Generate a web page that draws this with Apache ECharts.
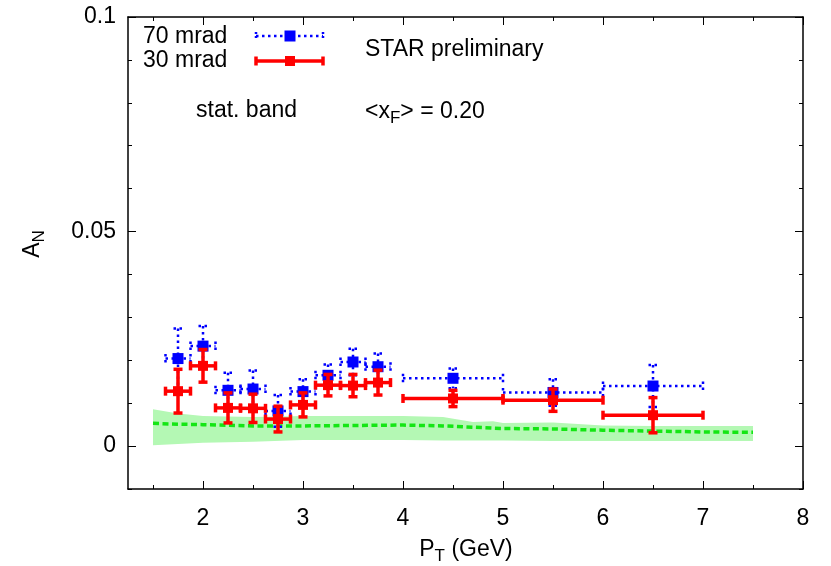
<!DOCTYPE html>
<html><head><meta charset="utf-8">
<script src="https://cdn.jsdelivr.net/npm/echarts@6/dist/echarts.min.js"></script>
<style>html,body{margin:0;padding:0;background:#fff}#c{width:831px;height:566px}</style>
</head><body><div id="c"></div>
<script>
// ---- data ----
const ptCenters = [1.75, 2.0, 2.25, 2.5, 2.75, 3.0, 3.25, 3.5, 3.75, 4.5, 5.5, 6.5];
const ptHalfWidth = [0.125, 0.125, 0.125, 0.125, 0.125, 0.125, 0.125, 0.125, 0.125, 0.5, 0.5, 0.5];
const an70 = [0.0204, 0.0233, 0.0130, 0.0133, 0.0082, 0.0127, 0.0165, 0.0196, 0.0185, 0.0158, 0.0125, 0.0140];
const err70 = [0.0070, 0.0047, 0.0041, 0.0043, 0.0037, 0.0029, 0.0025, 0.0031, 0.0031, 0.0023, 0.0031, 0.0049];
const an30 = [0.0128, 0.0187, 0.0089, 0.0088, 0.0063, 0.0096, 0.0142, 0.0141, 0.0148, 0.0111, 0.0107, 0.0072];
const err30 = [0.0051, 0.0038, 0.0035, 0.0033, 0.0030, 0.0028, 0.0025, 0.0026, 0.0029, 0.0019, 0.0026, 0.0041];

const bandX     = [1.5, 1.75, 2.0, 2.5, 3.0, 3.5, 4.0, 4.4, 4.7, 4.9, 5.0, 5.5, 6.0, 6.5, 7.0, 7.5];
const bandUpper = [0.0086, 0.0076, 0.0070, 0.0068, 0.0070, 0.0070, 0.0070, 0.0068, 0.0056, 0.0058, 0.0054, 0.0055, 0.0048, 0.0047, 0.0047, 0.0047];
const bandLower = [0.0002, 0.0005, 0.0008, 0.0010, 0.0014, 0.0014, 0.0014, 0.0013, 0.0013, 0.0013, 0.0013, 0.0012, 0.0012, 0.0012, 0.0012, 0.0012];
const bandMid   = [0.0053, 0.0051, 0.0050, 0.0047, 0.0047, 0.0048, 0.0049, 0.0047, 0.0044, 0.0042, 0.0041, 0.0040, 0.0037, 0.0035, 0.0033, 0.0032];

const xLabelVals = [2, 3, 4, 5, 6, 7, 8];
const xMinorVals = [1.5, 2.5, 3.5, 4.5, 5.5, 6.5, 7.5];
const yLabelVals = [0, 0.05, 0.1];
const yMinorVals = [-0.01, 0.01, 0.02, 0.03, 0.04, 0.06, 0.07, 0.08, 0.09];

// ---- chart ----
const FONT = "'Liberation Sans', Arial, Helvetica, sans-serif";
const FS = 23;
const xMin = 1.25, xMax = 8, yMin = -0.01, yMax = 0.1;
const frame = {color: '#000', width: 1.5};

function makeErr(color, lw, dash, capPx, markPx) {
  return function (params, api) {
    const x = api.value(0), y = api.value(1), dx = api.value(2), dy = api.value(3);
    const p = api.coord([x, y]);
    const pl = api.coord([x - dx, y]), pr = api.coord([x + dx, y]);
    const pt = api.coord([x, y + dy]), pb = api.coord([x, y - dy]);
    const st = {stroke: color, lineWidth: lw, lineDash: dash, fill: null};
    const h = capPx / 2;
    const seg = (x1, y1, x2, y2) => ({type: 'line', shape: {x1, y1, x2, y2}, style: st});
    return {type: 'group', children: [
      seg(pl[0], p[1], pr[0], p[1]),
      seg(p[0], pt[1], p[0], pb[1]),
      seg(pl[0], p[1] - h, pl[0], p[1] + h),
      seg(pr[0], p[1] - h, pr[0], p[1] + h),
      seg(p[0] - h, pt[1], p[0] + h, pt[1]),
      seg(p[0] - h, pb[1], p[0] + h, pb[1]),
      {type: 'rect', shape: {x: p[0] - markPx / 2, y: p[1] - markPx / 2, width: markPx, height: markPx}, style: {fill: color}}
    ]};
  };
}

function bandRender(params, api) {
  if (params.dataIndex !== 0) return null;
  const pts = [];
  for (let i = 0; i < bandX.length; i++) pts.push(api.coord([bandX[i], bandUpper[i]]));
  for (let i = bandX.length - 1; i >= 0; i--) pts.push(api.coord([bandX[i], bandLower[i]]));
  return {type: 'polygon', shape: {points: pts}, style: {fill: '#b4f8b4', stroke: null}};
}

function xAx(pos, major) {
  return {
    type: 'value', min: xMin, max: xMax, position: pos,
    axisLine: {show: major, onZero: false, lineStyle: frame},
    axisTick: {show: true, inside: true, length: major ? 8 : 4, customValues: major ? xLabelVals : xMinorVals, lineStyle: {color: '#000', width: 1}},
    axisLabel: {show: major && pos === 'bottom', customValues: xLabelVals, fontSize: FS, fontFamily: FONT, color: '#000', margin: 18},
    splitLine: {show: false}
  };
}
function yAx(pos, major) {
  return {
    type: 'value', min: yMin, max: yMax, position: pos,
    axisLine: {show: major, onZero: false, lineStyle: frame},
    axisTick: {show: true, inside: true, length: major ? 8 : 4, customValues: major ? yLabelVals : yMinorVals, lineStyle: {color: '#000', width: 1}},
    axisLabel: {show: major && pos === 'left', customValues: yLabelVals, fontSize: FS, fontFamily: FONT, color: '#000', margin: 12,
      formatter: v => (Math.abs(v) < 1e-9 ? '0' : String(+v.toFixed(3)))},
    splitLine: {show: false}
  };
}

const chart = echarts.init(document.getElementById('c'), null, {renderer: 'canvas'});
const sub = {fontSize: 17, fontFamily: FONT, color: '#000', verticalAlign: 'bottom', padding: [12, 0, 0, 0]};
const txt = (x, y, text, extra) => ({type: 'text', x, y, z: 100,
  style: Object.assign({text, fontSize: FS, fontFamily: FONT, fill: '#000', textVerticalAlign: 'middle', verticalAlign: 'middle'}, extra || {})});
const gl = (x1, y1, x2, y2, color, w, dash) => ({type: 'line', z: 100, shape: {x1, y1, x2, y2}, style: {stroke: color, lineWidth: w, lineDash: dash}});

const option = {
  animation: false,
  backgroundColor: '#fff',
  grid: {left: 128, right: 28, top: 17, bottom: 77, containLabel: false},
  xAxis: [xAx('bottom', true), xAx('bottom', false), xAx('top', true), xAx('top', false)],
  yAxis: [yAx('left', true), yAx('left', false), yAx('right', true), yAx('right', false)],
  series: [
    {type: 'custom', name: 'stat. band', renderItem: bandRender, silent: true,
     encode: {x: 0, y: 1}, data: bandX.map((x, i) => [x, bandUpper[i], bandLower[i]]), z: 1},
    {type: 'line', name: 'band', symbol: 'none', silent: true,
     data: bandX.map((x, i) => [x, bandMid[i]]), lineStyle: {color: '#14e614', width: 3.5, type: [6, 3.5]}, z: 2},
    {type: 'custom', name: '70 mrad', renderItem: makeErr('#0000ff', 2.5, [2.5, 3.5], 9, 11),
     encode: {x: 0, y: 1}, data: ptCenters.map((x, i) => [x, an70[i], ptHalfWidth[i], err70[i]]), z: 3},
    {type: 'custom', name: '30 mrad', renderItem: makeErr('#ff0000', 3.5, null, 9, 10),
     encode: {x: 0, y: 1}, data: ptCenters.map((x, i) => [x, an30[i], ptHalfWidth[i], err30[i]]), z: 4}
  ],
  graphic: [
    txt(143, 37, '70 mrad'),
    txt(143, 61, '30 mrad'),
    gl(256, 36, 323, 36, '#0000ff', 2.5, [2.5, 3.5]),
    gl(256, 32, 256, 40, '#0000ff', 2.5, [2, 2]),
    gl(323, 32, 323, 40, '#0000ff', 2.5, [2, 2]),
    {type: 'rect', z: 100, shape: {x: 284.5, y: 30.5, width: 11, height: 11}, style: {fill: '#0000ff'}},
    gl(256, 61, 323, 61, '#ff0000', 3.5, null),
    gl(256, 56.5, 256, 65.5, '#ff0000', 3.5, null),
    gl(323, 56.5, 323, 65.5, '#ff0000', 3.5, null),
    {type: 'rect', z: 100, shape: {x: 285, y: 56, width: 10, height: 10}, style: {fill: '#ff0000'}},
    txt(365, 50, 'STAR preliminary'),
    txt(196, 111, 'stat. band'),
    txt(365, 112, '<x{s|F}> = 0.20', {rich: {s: sub}}),
    txt(33, 244, 'A{s|N}', {rich: {s: sub}, align: 'center', textAlign: 'center'}),
    txt(466, 550, 'P{s|T} (GeV)', {rich: {s: sub}, align: 'center', textAlign: 'center'})
  ]
};
option.graphic[option.graphic.length - 2].rotation = Math.PI / 2;
chart.setOption(option);
</script>
</body></html>
